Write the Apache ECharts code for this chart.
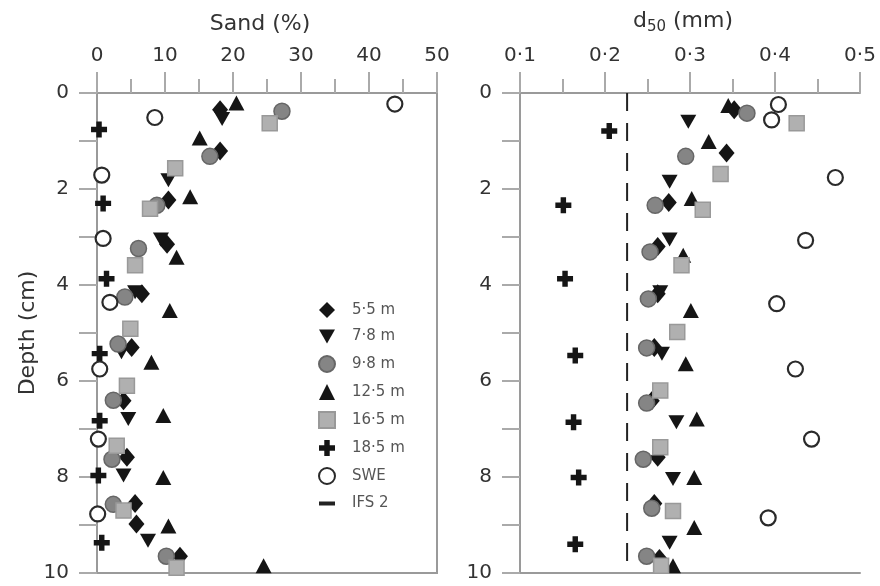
<!DOCTYPE html>
<html>
<head>
<meta charset="utf-8">
<script src="https://cdn.jsdelivr.net/npm/echarts@6/dist/echarts.min.js"></script>
<style>
  html, body { margin: 0; padding: 0; background: #fff; }
  #chart { width: 880px; height: 586px; }
</style>
</head>
<body>
<div id="chart"></div>
<script>
// Station names (distance offshore) and the two reference profiles
const stations = ['5·5 m', '7·8 m', '9·8 m', '12·5 m', '16·5 m', '18·5 m', 'SWE'];
const ifsName = 'IFS 2';

// Sand content (%) against sample depth (cm)
const sandDepth55 = [0.35, 1.21, 2.23, 3.15, 4.18, 5.3, 6.41, 7.59, 8.55, 8.98, 9.65];
const sand55      = [18.1, 18.1, 10.5, 10.3, 6.6, 5.1, 3.9, 4.4, 5.6, 5.8, 12.2];
const sandDepth78 = [0.54, 1.82, 3.05, 4.15, 5.4, 6.79, 7.97, 9.33];
const sand78      = [18.4, 10.5, 9.4, 5.6, 3.6, 4.6, 3.9, 7.5];
const sandDepth98 = [0.38, 1.32, 2.34, 3.24, 4.25, 5.23, 6.4, 7.63, 8.57, 9.65];
const sand98      = [27.2, 16.6, 8.8, 6.1, 4.1, 3.1, 2.4, 2.2, 2.4, 10.2];
const sandDepth125 = [0.21, 0.94, 2.16, 3.42, 4.53, 5.61, 6.72, 8.01, 9.02, 9.85];
const sand125      = [20.5, 15.1, 13.7, 11.7, 10.7, 8.0, 9.75, 9.75, 10.5, 24.5];
const sandDepth165 = [0.63, 1.57, 2.41, 3.59, 4.91, 6.1, 7.35, 8.7, 9.89];
const sand165      = [25.4, 11.5, 7.8, 5.6, 4.9, 4.4, 2.9, 3.9, 11.7];
const sandDepth185 = [0.76, 2.3, 3.87, 5.43, 6.83, 7.97, 9.37];
const sand185      = [0.3, 0.9, 1.4, 0.4, 0.4, 0.2, 0.7];
const sandDepthSWE = [0.23, 0.51, 1.71, 3.03, 4.36, 5.75, 7.21, 8.77];
const sandSWE      = [43.8, 8.5, 0.7, 0.9, 1.9, 0.4, 0.2, 0.1];

// Median grain size d50 (mm) against sample depth (cm)
const d50Depth55 = [0.35, 1.25, 2.28, 3.2, 4.18, 5.3, 6.41, 7.59, 8.55, 9.7];
const d50_55     = [0.352, 0.343, 0.275, 0.262, 0.262, 0.258, 0.255, 0.262, 0.258, 0.264];
const d50Depth78 = [0.6, 1.85, 3.05, 4.15, 5.43, 6.86, 8.04, 9.37];
const d50_78     = [0.298, 0.276, 0.276, 0.265, 0.267, 0.284, 0.280, 0.276];
const d50Depth98 = [0.42, 1.32, 2.34, 3.31, 4.29, 5.31, 6.46, 7.63, 8.65, 9.65];
const d50_98     = [0.367, 0.295, 0.259, 0.253, 0.251, 0.249, 0.249, 0.245, 0.255, 0.249];
const d50Depth125 = [0.26, 1.01, 2.2, 3.38, 4.53, 5.64, 6.79, 8.01, 9.05, 9.85];
const d50_125     = [0.345, 0.322, 0.302, 0.292, 0.301, 0.295, 0.308, 0.305, 0.305, 0.28];
const d50Depth165 = [0.63, 1.69, 2.43, 3.59, 4.98, 6.2, 7.38, 8.71, 9.85];
const d50_165     = [0.4255, 0.336, 0.315, 0.290, 0.285, 0.265, 0.265, 0.280, 0.266];
const d50Depth185 = [0.79, 2.34, 3.87, 5.47, 6.86, 8.01, 9.40];
const d50_185     = [0.205, 0.151, 0.153, 0.165, 0.163, 0.169, 0.165];
const d50DepthSWE = [0.24, 0.56, 1.76, 3.07, 4.39, 5.75, 7.21, 8.85];
const d50_SWE     = [0.404, 0.396, 0.471, 0.436, 0.402, 0.424, 0.443, 0.392];
// IFS 2 reference d50 (mm), drawn as a vertical line over the full depth range
const ifsD50 = 0.226;
const depthRange = [0, 10];

// Axis ticks
const sandTicks = [0, 10, 20, 30, 40, 50];
const d50Ticks = [0.1, 0.2, 0.3, 0.4, 0.5];
const depthTicks = [0, 2, 4, 6, 8, 10];

const sandSets = [
  [sand55, sandDepth55], [sand78, sandDepth78], [sand98, sandDepth98], [sand125, sandDepth125],
  [sand165, sandDepth165], [sand185, sandDepth185], [sandSWE, sandDepthSWE]
];
const d50Sets = [
  [d50_55, d50Depth55], [d50_78, d50Depth78], [d50_98, d50Depth98], [d50_125, d50Depth125],
  [d50_165, d50Depth165], [d50_185, d50Depth185], [d50_SWE, d50DepthSWE]
];

// Marker look for each station
const PLUS = 'path://M3.3,0H6.7V3.3H10V6.7H6.7V10H3.3V6.7H0V3.3H3.3Z';
const DOWN = 'path://M0,0H10L5,8.7Z';
const markers = [
  { symbol: 'diamond', size: [16, 19], itemStyle: { color: '#151515', opacity: 1 } },
  { symbol: DOWN, size: [16, 14], itemStyle: { color: '#151515', opacity: 1 } },
  { symbol: 'circle', size: 16, itemStyle: { color: '#858585', borderColor: '#666', borderWidth: 1.5, opacity: 1 } },
  { symbol: 'triangle', size: [16, 15], itemStyle: { color: '#151515', opacity: 1 } },
  { symbol: 'rect', size: 15, itemStyle: { color: '#b0b0b0', borderColor: '#999', borderWidth: 1.5, opacity: 1 } },
  { symbol: PLUS, size: 16, itemStyle: { color: '#151515', opacity: 1 } },
  { symbol: 'circle', size: 15, itemStyle: { color: '#fff', borderColor: '#2a2a2a', borderWidth: 2.2, opacity: 1 } }
];

const zip = (xs, ys) => xs.map((x, i) => [x, ys[i]]);
const dot = v => String(v).replace('.', '·');

const FONT = '"DejaVu Sans", Verdana, sans-serif';
const AXIS_GREY = '#9a9a9a';
const TEXT = '#333';

const series = [];
stations.forEach((name, i) => {
  const m = markers[i];
  series.push({
    name, type: 'scatter', xAxisIndex: 0, yAxisIndex: 0,
    symbol: m.symbol, symbolSize: m.size, itemStyle: m.itemStyle,
    data: zip(sandSets[i][0], sandSets[i][1]), silent: true
  });
  series.push({
    name, type: 'scatter', xAxisIndex: 1, yAxisIndex: 1,
    symbol: m.symbol, symbolSize: m.size, itemStyle: m.itemStyle,
    data: zip(d50Sets[i][0], d50Sets[i][1]), silent: true
  });
});
series.push({
  name: ifsName, type: 'line', xAxisIndex: 1, yAxisIndex: 1,
  symbol: 'none', silent: true, z: 1,
  lineStyle: { color: '#222', width: 2, type: [18, 12] },
  itemStyle: { color: '#222' },
  data: depthRange.map(d => [ifsD50, d])
});

const depthAxis = (gridIndex, withName) => ({
  type: 'value', gridIndex, inverse: true,
  min: depthTicks[0], max: depthTicks[depthTicks.length - 1], interval: depthTicks[1] - depthTicks[0],
  name: withName ? 'Depth (cm)' : '',
  nameLocation: 'middle', nameGap: 50, nameRotate: 90,
  nameTextStyle: { fontFamily: FONT, fontSize: 22, color: TEXT },
  axisLine: { show: true, lineStyle: { color: AXIS_GREY, width: 2 } },
  axisTick: { show: true, inside: false, length: 18, lineStyle: { color: '#aaa', width: 2 } },
  minorTick: { show: true, splitNumber: 2, length: 18, lineStyle: { color: '#aaa', width: 2 } },
  axisLabel: { fontFamily: FONT, fontSize: 20, color: TEXT, margin: 28 },
  splitLine: { show: false }, minorSplitLine: { show: false }
});

const option = {
  backgroundColor: '#fff',
  animation: false,
  grid: [
    { left: 97, top: 93, width: 340, height: 480, show: true, borderColor: AXIS_GREY, borderWidth: 2 },
    { left: 520, top: 93, width: 340, height: 480 }
  ],
  xAxis: [
    {
      type: 'value', gridIndex: 0, position: 'top',
      min: sandTicks[0], max: sandTicks[sandTicks.length - 1], interval: sandTicks[1] - sandTicks[0],
      name: 'Sand (%)', nameLocation: 'middle', nameGap: 58,
      nameTextStyle: { fontFamily: FONT, fontSize: 22, color: TEXT, padding: [0, 14, 0, 0] },
      axisLine: { lineStyle: { color: AXIS_GREY, width: 2 } },
      axisTick: { length: 21, lineStyle: { color: '#aaa', width: 2 } },
      minorTick: { show: true, splitNumber: 2, length: 14, lineStyle: { color: '#aaa', width: 2 } },
      axisLabel: { fontFamily: FONT, fontSize: 20, color: TEXT, margin: 27 },
      splitLine: { show: false }
    },
    {
      type: 'value', gridIndex: 1, position: 'top',
      min: d50Ticks[0], max: d50Ticks[d50Ticks.length - 1], interval: 0.1,
      name: '{a|d}{s|50}{a| (mm)}', nameLocation: 'middle', nameGap: 58,
      nameTextStyle: {
        fontFamily: FONT, fontSize: 22, color: TEXT, padding: [0, 14, 0, 0],
        rich: {
          a: { fontFamily: FONT, fontSize: 22, color: TEXT },
          s: { fontFamily: FONT, fontSize: 15, color: TEXT, padding: [12, 0, 0, 0] }
        }
      },
      axisLine: { lineStyle: { color: AXIS_GREY, width: 2 } },
      axisTick: { length: 21, lineStyle: { color: '#aaa', width: 2 } },
      minorTick: { show: true, splitNumber: 2, length: 14, lineStyle: { color: '#aaa', width: 2 } },
      axisLabel: { fontFamily: FONT, fontSize: 20, color: TEXT, margin: 27, formatter: v => dot(v.toFixed(1)) },
      splitLine: { show: false }
    },
    {
      // bottom frame line of the d50 panel
      type: 'value', gridIndex: 1, position: 'bottom',
      min: d50Ticks[0], max: d50Ticks[d50Ticks.length - 1],
      axisLine: { lineStyle: { color: AXIS_GREY, width: 2 } },
      axisTick: { show: false }, axisLabel: { show: false }, splitLine: { show: false }
    }
  ],
  yAxis: [depthAxis(0, true), depthAxis(1, false)],
  legend: {
    orient: 'vertical', left: 313, top: 297,
    itemWidth: 16, itemHeight: 16, itemGap: 11,
    selectedMode: false,
    formatter: n => '{gap|}{t|' + n + '}',
    textStyle: {
      fontFamily: FONT, fontSize: 15, color: '#555',
      rich: {
        gap: { width: 12 },
        t: { fontFamily: FONT, fontSize: 15, color: '#555' }
      }
    },
    data: stations.map(n => ({ name: n })).concat([{ name: ifsName, icon: 'path://M0,0H16V4H0Z' }])
  },
  series
};

const chart = echarts.init(document.getElementById('chart'), null, { renderer: 'canvas' });
chart.setOption(option);
</script>
</body>
</html>
